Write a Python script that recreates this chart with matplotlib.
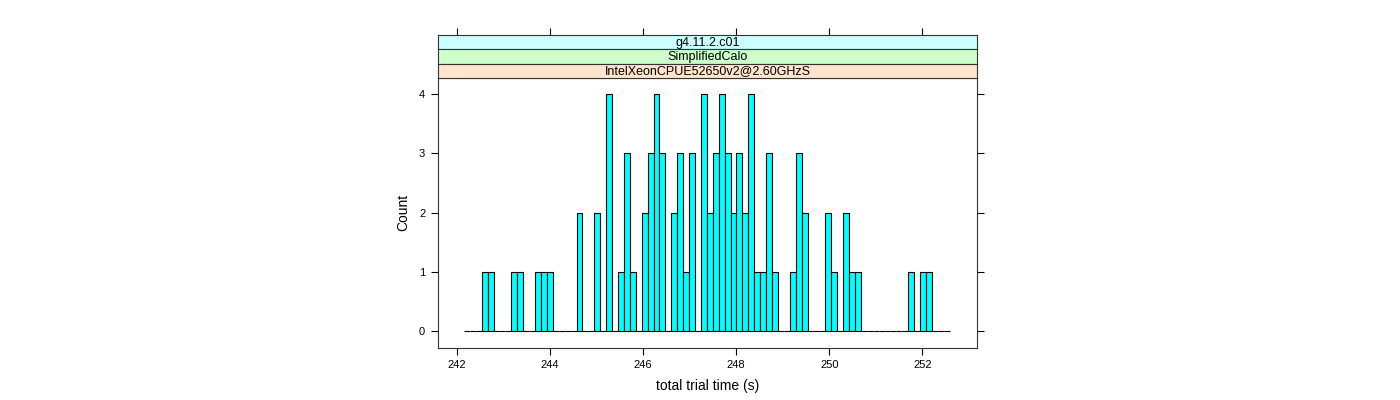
import numpy as np
import matplotlib
matplotlib.use("Agg")
import matplotlib.pyplot as plt

plt.rcParams['font.family'] = ['Liberation Sans', 'DejaVu Sans']

# histogram bins
bin_start = 242.157
bin_width = 0.1272
counts = [0, 0, 0, 1, 1, 0, 0, 0, 1, 1,
          0, 0, 1, 1, 1, 0, 0, 0, 0, 2,
          0, 0, 2, 0, 4, 0, 1, 3, 1, 0,
          2, 3, 4, 3, 0, 2, 3, 1, 3, 0,
          4, 2, 3, 4, 3, 2, 3, 2, 4, 1,
          1, 3, 1, 0, 0, 1, 3, 2, 0, 0,
          0, 2, 1, 0, 2, 1, 1, 0, 0, 0,
          0, 0, 0, 0, 0, 1, 0, 1, 1, 0,
          0, 0]
strip_labels = ["g4.11.2.c01", "SimplifiedCalo", "IntelXeonCPUE52650v2@2.60GHzS"]
strip_colors = ["#ccffff", "#ccffcc", "#ffe5cc"]
x_ticks = [242, 244, 246, 248, 250, 252]
y_ticks = [0, 1, 2, 3, 4]

W, H = 1400, 400
fig = plt.figure(figsize=(14, 4), dpi=100)

left, right = 437.7, 977.3
ptop, pbot = 78.0, 347.7
ax = fig.add_axes([left / W, 1 - pbot / H, (right - left) / W, (pbot - ptop) / H])

edges = bin_start + bin_width * np.arange(len(counts))
ax.bar(edges, counts, width=bin_width, align='edge', color='#00ffff',
       edgecolor='black', linewidth=0.8)

xlim = (241.592, 253.18)
ax.set_xlim(*xlim)
ax.set_ylim(-0.276, 4.27)
ax.set_xticks(x_ticks)
ax.set_yticks(y_ticks)
ax.tick_params(direction='out', length=5, width=0.8, labelsize=8, pad=4,
               right=True, top=False)
for s in ax.spines.values():
    s.set_linewidth(0.8)
    s.set_color('#333333')
ax.set_xlabel("total trial time (s)", fontsize=10, labelpad=6)
ax.set_ylabel("Count", fontsize=10, labelpad=6)

# strips above the panel
stop = 34.7
sh = (ptop - stop) / 3
for i, (lab, col) in enumerate(zip(strip_labels, strip_colors)):
    y0 = stop + i * sh
    sax = fig.add_axes([left / W, 1 - (y0 + sh) / H, (right - left) / W, sh / H])
    sax.set_facecolor(col)
    sax.set_xlim(*xlim)
    sax.set_yticks([])
    for s in sax.spines.values():
        s.set_linewidth(0.8)
        s.set_color('#333333')
    sax.text(0.5, 0.45, lab, transform=sax.transAxes, ha='center', va='center',
             fontsize=9)
    if i == 0:
        sax.set_xticks(x_ticks)
        sax.tick_params(axis='x', direction='out', length=5, width=0.8,
                        top=True, bottom=False, labeltop=False, labelbottom=False)
    else:
        sax.set_xticks([])

fig.savefig("out.png", dpi=100)
